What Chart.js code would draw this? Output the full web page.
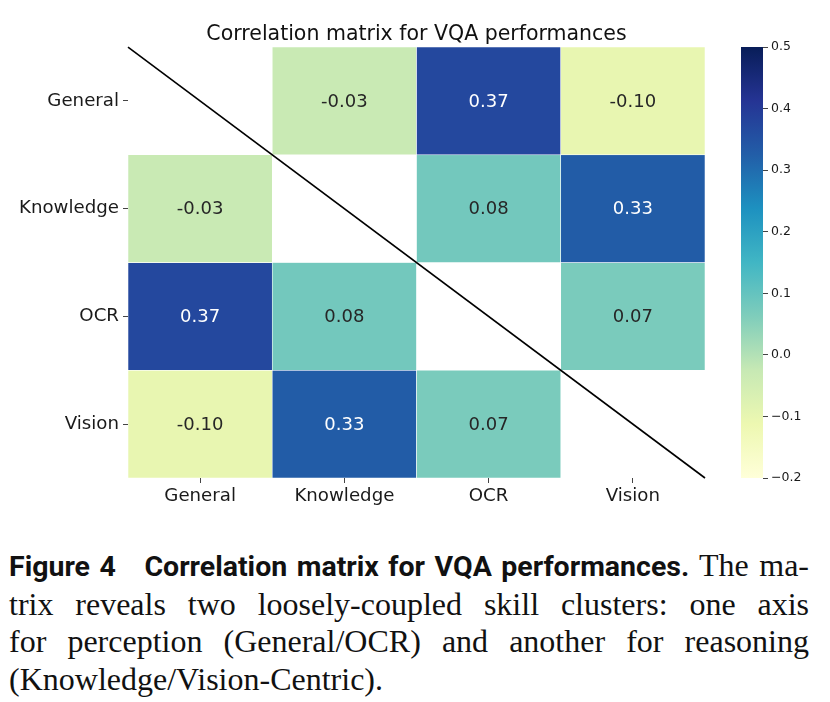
<!DOCTYPE html>
<html>
<head>
<meta charset="utf-8">
<script src="https://cdn.jsdelivr.net/npm/chart.js@4.4.0/dist/chart.umd.min.js"></script>
<style>
  html, body { margin: 0; padding: 0; background: #ffffff; }
  body { width: 830px; height: 702px; position: relative; overflow: hidden; }
  #main { position: absolute; left: 0; top: 0; }
  #cbar { position: absolute; left: 700px; top: 0; }
  .cap { position: absolute; left: 9px; width: 800px; line-height: 38px; white-space: nowrap;
         font-family: "Liberation Serif", "DejaVu Serif", serif; font-size: 32px; color: #111; }
  .just { text-align: justify; text-align-last: justify; white-space: normal; }
  .cap b { font-family: "Roboto", "Liberation Sans", sans-serif; font-weight: 700; font-size: 28.5px; }
</style>
</head>
<body>
<canvas id="main" width="730" height="520"></canvas>
<canvas id="cbar" width="130" height="520"></canvas>
<div class="cap just" style="top:546px;"><b>Figure 4&nbsp;&nbsp; Correlation matrix for VQA performances.</b> The ma-</div>
<div class="cap just" style="top:585px;">trix reveals two loosely-coupled skill clusters: one axis</div>
<div class="cap just" style="top:622px;">for perception (General/OCR) and another for reasoning</div>
<div class="cap" style="top:660px;">(Knowledge/Vision-Centric).</div>
<script>
// ---- data ----
const colLabels = ["General", "Knowledge", "OCR", "Vision"];
const rowLabels = ["General", "Knowledge", "OCR", "Vision"];
const rowGeneral   = [null, -0.03, 0.37, -0.10];
const rowKnowledge = [-0.03, null, 0.08, 0.33];
const rowOCR       = [0.37, 0.08, null, 0.07];
const rowVision    = [-0.10, 0.33, 0.07, null];
const matrixRows = [rowGeneral, rowKnowledge, rowOCR, rowVision];
const vmin = -0.2, vmax = 0.5;
const cbarTicks = [-0.2, -0.1, 0.0, 0.1, 0.2, 0.3, 0.4, 0.5];
const chartTitle = "Correlation matrix for VQA performances";

// ---- YlGnBu colormap ----
const ylgnbu = ["#ffffd9","#edf8b1","#c7e9b4","#7fcdbb","#41b6c4","#1d91c0","#225ea8","#253494","#081d58"];
function hex2rgb(h){ return [parseInt(h.slice(1,3),16),parseInt(h.slice(3,5),16),parseInt(h.slice(5,7),16)]; }
function cmap(v){
  let t = (v - vmin) / (vmax - vmin);
  t = Math.max(0, Math.min(1, t));
  const n = ylgnbu.length - 1;
  const i = Math.min(n - 1, Math.floor(t * n));
  const f = t * n - i;
  const a = hex2rgb(ylgnbu[i]), b = hex2rgb(ylgnbu[i+1]);
  const c = a.map((x, k) => Math.round(x + (b[k] - x) * f));
  return `rgb(${c[0]},${c[1]},${c[2]})`;
}

const datasets = matrixRows.map((row, i) => ({
  label: rowLabels[i],
  data: row.map(v => v === null ? null : [i, i + 1]),
  values: row,
  backgroundColor: row.map(v => v === null ? 'rgba(0,0,0,0)' : cmap(v)),
  borderColor: '#ffffff',
  borderWidth: 0.6,
  borderSkipped: false,
  grouped: false,
  barPercentage: 1,
  categoryPercentage: 1
}));

const annotatePlugin = {
  id: 'annotate',
  afterDatasetsDraw(chart) {
    const ctx = chart.ctx;
    ctx.save();
    ctx.font = '18px "DejaVu Sans"';
    ctx.textAlign = 'center';
    ctx.textBaseline = 'middle';
    chart.data.datasets.forEach((ds, di) => {
      const meta = chart.getDatasetMeta(di);
      meta.data.forEach((el, j) => {
        const v = ds.values[j];
        if (v === null) return;
        ctx.fillStyle = v > 0.25 ? '#ffffff' : '#262626';
        ctx.fillText(v.toFixed(2), el.x, (el.y + el.base) / 2 + 1);
      });
    });
    ctx.restore();
  },
  afterDraw(chart) {
    const ctx = chart.ctx;
    const xs = chart.scales.x, ys = chart.scales.y;
    ctx.save();
    ctx.strokeStyle = '#000000';
    ctx.lineWidth = 1.6;
    ctx.beginPath();
    ctx.moveTo(xs.left, ys.getPixelForValue(0));
    ctx.lineTo(xs.right, ys.getPixelForValue(4));
    ctx.stroke();
    ctx.restore();
  }
};

new Chart(document.getElementById('main'), {
  type: 'bar',
  data: { labels: colLabels, datasets },
  options: {
    responsive: false,
    animation: false,
    layout: { padding: { left: 0, right: 25, top: 0, bottom: 0 } },
    plugins: {
      legend: { display: false },
      tooltip: { enabled: false },
      title: {
        display: true, text: chartTitle, fullSize: false,
        color: '#111', font: { family: 'DejaVu Sans', size: 20.5, weight: 'normal', lineHeight: 1.2 },
        padding: { top: 22, bottom: 0.5 }
      }
    },
    scales: {
      x: {
        type: 'category',
        offset: true,
        grid: { display: true, offset: false, drawOnChartArea: false, drawTicks: true, tickLength: 5, color: '#444' },
        border: { display: false },
        ticks: { color: '#1a1a1a', font: { family: 'DejaVu Sans', size: 18.2 }, padding: 2, maxRotation: 0 },
        afterFit(s) { s.height = 42; }
      },
      y: {
        type: 'linear', min: 0, max: 4, reverse: true,
        afterBuildTicks(s) { s.ticks = rowLabels.map((_, i) => ({ value: i + 0.5 })); },
        grid: { display: true, drawOnChartArea: false, drawTicks: true, tickLength: 5, color: '#444' },
        border: { display: false },
        ticks: {
          color: '#1a1a1a', font: { family: 'DejaVu Sans', size: 18.2 }, padding: 4,
          callback: (v) => rowLabels[Math.floor(v)]
        },
        afterFit(s) { s.width = 128; }
      }
    }
  },
  plugins: [annotatePlugin]
});

// ---- colour bar ----
function gradientFill(context) {
  const chart = context.chart;
  const ca = chart.chartArea;
  if (!ca) return null;
  const ys = chart.scales.y;
  const g = chart.ctx.createLinearGradient(0, ys.getPixelForValue(vmin), 0, ys.getPixelForValue(vmax));
  ylgnbu.forEach((c, i) => g.addColorStop(i / (ylgnbu.length - 1), c));
  return g;
}

new Chart(document.getElementById('cbar'), {
  type: 'bar',
  data: {
    labels: [''],
    datasets: [{
      data: [[vmin, vmax]],
      backgroundColor: gradientFill,
      borderWidth: 0,
      barPercentage: 1,
      categoryPercentage: 1
    }]
  },
  options: {
    responsive: false,
    animation: false,
    layout: { padding: { left: 41, right: 0, top: 47, bottom: 42 } },
    plugins: { legend: { display: false }, tooltip: { enabled: false } },
    scales: {
      x: { type: 'category', display: false },
      y: {
        type: 'linear', position: 'right', min: vmin, max: vmax,
        afterBuildTicks(s) { s.ticks = cbarTicks.map(v => ({ value: v })); },
        grid: { display: true, drawOnChartArea: false, drawTicks: true, tickLength: 5, color: '#444' },
        border: { display: false },
        ticks: {
          color: '#1a1a1a', font: { family: 'DejaVu Sans', size: 12.5 }, padding: 3,
          callback: (v) => (v < -1e-9 ? '\u2212' + Math.abs(v).toFixed(1) : Math.abs(v).toFixed(1))
        },
        afterFit(s) { s.width = 67; }
      }
    }
  }
});
</script>
</body>
</html>
